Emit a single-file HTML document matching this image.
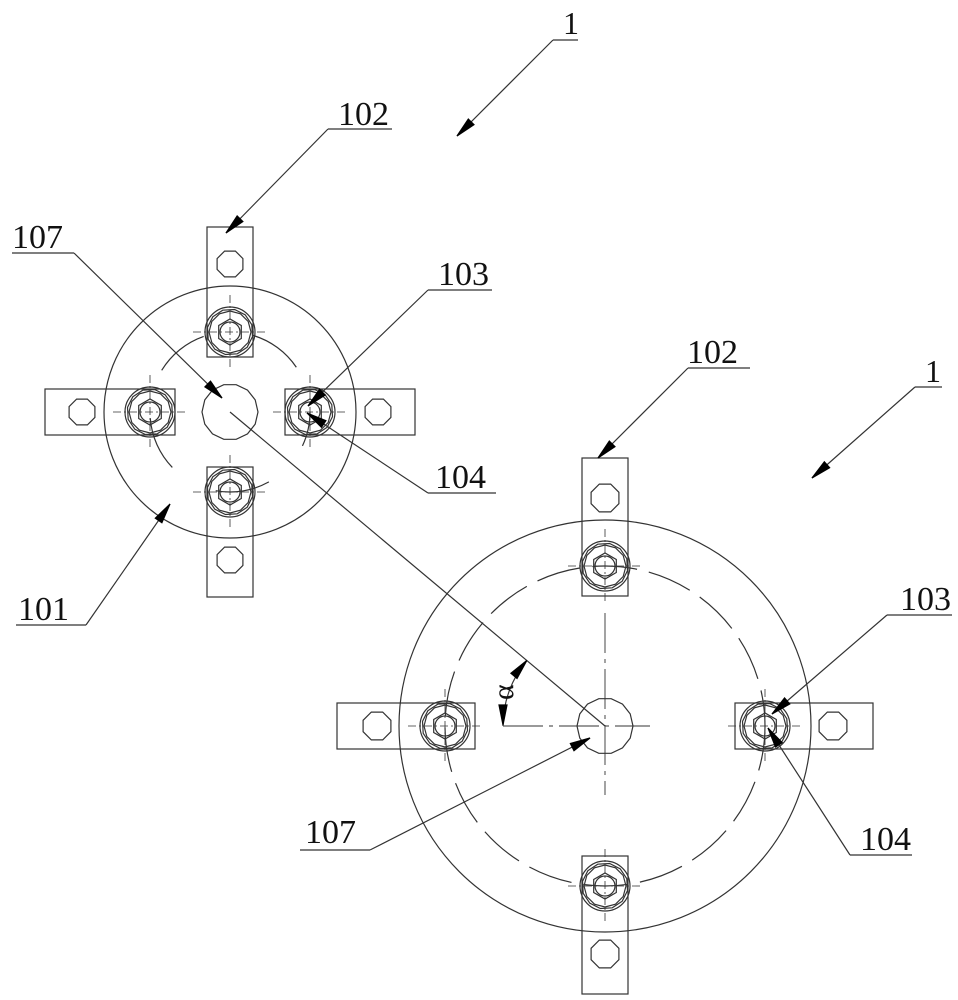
<!DOCTYPE html>
<html><head><meta charset="utf-8"><style>
html,body{margin:0;padding:0;background:#fff;}
svg{display:block}
</style></head><body>
<svg id="s" width="958" height="1000" viewBox="0 0 958 1000" xmlns="http://www.w3.org/2000/svg">
<g id="g" fill="none" stroke="#333" stroke-width="1.2"></g>
<g font-family="Liberation Serif, DejaVu Serif, serif" font-size="34" fill="#111">
<text x="563" y="34" font-size="32">1</text>
<text x="338" y="125">102</text>
<text x="12" y="248">107</text>
<text x="438" y="285">103</text>
<text x="435" y="488">104</text>
<text x="18" y="620">101</text>
<text x="687" y="363">102</text>
<text x="925" y="382" font-size="32">1</text>
<text x="900" y="610">103</text>
<text x="860" y="850">104</text>
<text x="305" y="843">107</text>
<text x="0" y="0" transform="translate(513,700) rotate(-90)" font-size="30">α</text>
</g>
</svg>
<script>
var g=document.getElementById('g');var NS='http://www.w3.org/2000/svg';
function el(t,a){var e=document.createElementNS(NS,t);for(var k in a)e.setAttribute(k,a[k]);g.appendChild(e);return e;}
function L(x1,y1,x2,y2,extra){var a={x1:x1,y1:y1,x2:x2,y2:y2};if(extra)for(var k in extra)a[k]=extra[k];return el('line',a);}
function C(x,y,r,extra){var a={cx:x,cy:y,r:r};if(extra)for(var k in extra)a[k]=extra[k];return el('circle',a);}
function poly(x,y,r,n,rot){var p=[];for(var i=0;i<n;i++){var a=rot+i*2*Math.PI/n;p.push((x+r*Math.cos(a)).toFixed(1)+','+(y+r*Math.sin(a)).toFixed(1));}return el('polygon',{points:p.join(' ')});}
function head(x2,y2,dx,dy){var l=Math.hypot(dx,dy);dx/=l;dy/=l;var bx=x2-dx*20,by=y2-dy*20;
el('polygon',{points:x2+','+y2+' '+(bx-dy*4)+','+(by+dx*4)+' '+(bx+dy*4)+','+(by-dx*4),fill:'#000',stroke:'#000'});}
function arrow(x1,y1,x2,y2){L(x1,y1,x2,y2);head(x2,y2,x2-x1,y2-y1);}
function bolt(x,y,r){C(x,y,r);poly(x,y,r-2,12,0.2);poly(x,y,r-4,12,0);poly(x,y,r*0.52,6,Math.PI/6);C(x,y,r*0.4);
var d={'stroke-dasharray':'8 3 2 3','stroke-width':0.8};L(x-r-12,y,x+r+12,y,d);L(x,y-r-12,x,y+r+12,d);}
function strip(x,y,w,h){el('rect',{x:x,y:y,width:w,height:h});}
function assembly(cx,cy,R,rb,br,sl,sw,holeOff,hr,cr){
 C(cx,cy,R);
 C(cx,cy,rb,{'stroke-dasharray':rb>100?'45 12':'55 50','stroke-dashoffset':rb>100?0:20});
 strip(cx-sw/2,cy-rb-sl[0],sw,sl[0]+sl[1]);
 strip(cx-sw/2,cy+rb-sl[1],sw,sl[0]+sl[1]);
 strip(cx-rb-sl[0],cy-sw/2,sl[0]+sl[1],sw);
 strip(cx+rb-sl[1],cy-sw/2,sl[0]+sl[1],sw);
 poly(cx,cy-rb-holeOff,hr,8,Math.PI/8);poly(cx,cy+rb+holeOff,hr,8,Math.PI/8);
 poly(cx-rb-holeOff,cy,hr,8,Math.PI/8);poly(cx+rb+holeOff,cy,hr,8,Math.PI/8);
 bolt(cx,cy-rb,br);bolt(cx,cy+rb,br);bolt(cx-rb,cy,br);bolt(cx+rb,cy,br);
 poly(cx,cy,cr,14,0);
}
assembly(230,412,126,80,25,[105,25],46,68,14,28);
assembly(605,726,206,160,25,[108,30],46,68,15,28);
var d2={'stroke-dasharray':'40 6 4 6','stroke-width':0.9};
L(605,613,605,795,d2);L(503,726,650,726,d2);
L(230,412,605,726);
var R=102;var a1=Math.atan2(726-664,605-531);
var px=605-R*Math.cos(a1),py=726-R*Math.sin(a1);
el('path',{d:'M'+(605-R)+',726 A'+R+','+R+' 0 0 1 '+px.toFixed(1)+','+py.toFixed(1)});
head(605-R,725,0,1);
head(px,py,Math.sin(a1),-Math.cos(a1));
L(553,40,578,40);arrow(553,40,457,136);
L(328,129,392,129);arrow(328,129,226,233);
L(12,253,74,253);arrow(74,253,222,398);
L(428,290,492,290);arrow(428,290,308,406);
L(428,493,496,493);arrow(428,493,307,413);
L(16,625,86,625);arrow(86,625,170,504);
L(688,368,750,368);arrow(688,368,598,458);
L(915,387,942,387);arrow(915,387,812,478);
L(887,615,952,615);arrow(887,615,772,714);
L(850,855,912,855);arrow(850,855,768,728);
L(300,850,370,850);arrow(370,850,590,738);
</script>
</body></html>
